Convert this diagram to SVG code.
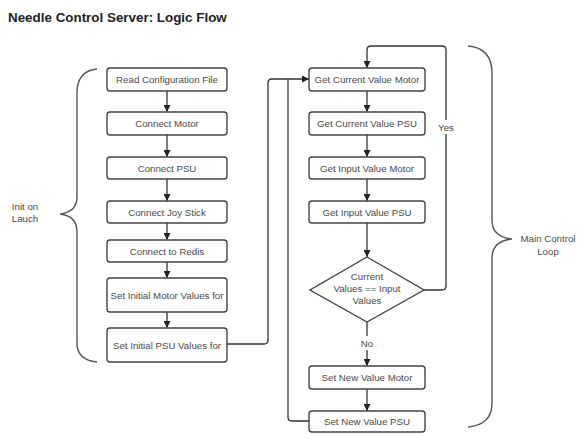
<svg xmlns="http://www.w3.org/2000/svg" width="578" height="434" viewBox="0 0 578 434">
<defs>
<marker id="arr" viewBox="0 0 10 10" refX="10" refY="5" markerWidth="7" markerHeight="7" markerUnits="userSpaceOnUse" orient="auto">
<path d="M0,0 L10,5 L0,10 z" fill="#222"/>
</marker>
</defs>
<style>
.box{fill:#fff;stroke:#444;stroke-width:1.4}
.t{font-family:"Liberation Sans",Arial,sans-serif;font-size:9.7px;fill:#4a4a4a;text-anchor:middle;dominant-baseline:central}
.c{fill:none;stroke:#333;stroke-width:1.3}
.ca{fill:none;stroke:#333;stroke-width:1.3;marker-end:url(#arr)}
.br{fill:none;stroke:#555;stroke-width:1.4}
.lbl{font-family:"Liberation Sans",Arial,sans-serif;font-size:9.7px;fill:#4a4a4a;text-anchor:middle;dominant-baseline:central}
</style>
<rect width="578" height="434" fill="#fff"/>
<text x="8" y="17" font-family="Liberation Sans,Arial,sans-serif" font-size="13.4" font-weight="bold" fill="#222" dominant-baseline="central">Needle Control Server: Logic Flow</text>

<g id="connectors">
<path class="ca" d="M167,91 V112"/>
<path class="ca" d="M167,135 V157"/>
<path class="ca" d="M167,179 V201"/>
<path class="ca" d="M167,223 V240"/>
<path class="ca" d="M167,262 V278"/>
<path class="ca" d="M167,312 V328"/>
<path class="ca" d="M227,344 H264 Q268,344 268,340 V83 Q268,79 272,79 H309"/>
<path class="c" d="M309,421 H292 Q288,421 288,417 V79"/>
<path class="ca" d="M367,91 V112"/>
<path class="ca" d="M367,135 V157"/>
<path class="ca" d="M367,179 V201"/>
<path class="ca" d="M367,223 V257"/>
<path class="ca" d="M367,322 V366"/>
<path class="ca" d="M367,389 V411"/>
<path class="ca" d="M424,290 H442 Q446,290 446,286 V50 Q446,46 442,46 H371 Q367,46 367,50 V68"/>
<rect x="437" y="120" width="18" height="14" fill="#fff"/>
<text class="lbl" x="446" y="127">Yes</text>
<rect x="359" y="336" width="16" height="14" fill="#fff"/>
<text class="lbl" x="367" y="343">No</text>
</g>

<g id="read-config"><rect class="box" x="107" y="68" width="120" height="23" rx="3"/><text class="t" x="167" y="79.5">Read Configuration File</text></g>
<g id="connect-motor"><rect class="box" x="107" y="112" width="120" height="23" rx="3"/><text class="t" x="167" y="123.5">Connect Motor</text></g>
<g id="connect-psu"><rect class="box" x="107" y="157" width="120" height="22" rx="3"/><text class="t" x="167" y="168">Connect PSU</text></g>
<g id="connect-joystick"><rect class="box" x="107" y="201" width="120" height="22" rx="3"/><text class="t" x="167" y="212">Connect Joy Stick</text></g>
<g id="connect-redis"><rect class="box" x="107" y="240" width="120" height="22" rx="3"/><text class="t" x="167" y="251">Connect to Redis</text></g>
<g id="set-init-motor"><rect class="box" x="107" y="278" width="120" height="34" rx="3"/><text class="t" x="167" y="295">Set Initial Motor Values for</text></g>
<g id="set-init-psu"><rect class="box" x="107" y="328" width="120" height="34" rx="3"/><text class="t" x="167" y="345">Set Initial PSU Values for</text></g>

<g id="get-current-motor"><rect class="box" x="309" y="68" width="116" height="23" rx="3"/><text class="t" x="367" y="79.5">Get Current Value Motor</text></g>
<g id="get-current-psu"><rect class="box" x="309" y="112" width="116" height="23" rx="3"/><text class="t" x="367" y="123.5">Get Current Value PSU</text></g>
<g id="get-input-motor"><rect class="box" x="309" y="157" width="116" height="22" rx="3"/><text class="t" x="367" y="168">Get Input Value Motor</text></g>
<g id="get-input-psu"><rect class="box" x="309" y="201" width="116" height="22" rx="3"/><text class="t" x="367" y="212">Get Input Value PSU</text></g>
<g id="compare"><path class="box" d="M367,257 L424,290 L367,322 L310,290 Z"/><text class="t" x="367" y="276">Current</text><text class="t" x="367" y="288">Values == Input</text><text class="t" x="367" y="300">Values</text></g>
<g id="set-new-motor"><rect class="box" x="309" y="366" width="116" height="23" rx="3"/><text class="t" x="367" y="377.5">Set New Value Motor</text></g>
<g id="set-new-psu"><rect class="box" x="309" y="411" width="116" height="21" rx="3"/><text class="t" x="367" y="421.5">Set New Value PSU</text></g>

<g id="init-brace"><path class="br" d="M97,69 Q77,71 77,93 V197 Q77,212 60,214 Q77,216 77,232 V343 Q77,360 97,362"/><text class="lbl" x="25" y="206">Init on</text><text class="lbl" x="25" y="218">Lauch</text></g>
<g id="loop-brace"><path class="br" d="M468,46 Q492,48 492,73 V220 Q492,237 512,239 Q492,241 492,258 V403 Q492,425 468,427"/><text class="lbl" x="548" y="238">Main Control</text><text class="lbl" x="548" y="251">Loop</text></g>
</svg>
